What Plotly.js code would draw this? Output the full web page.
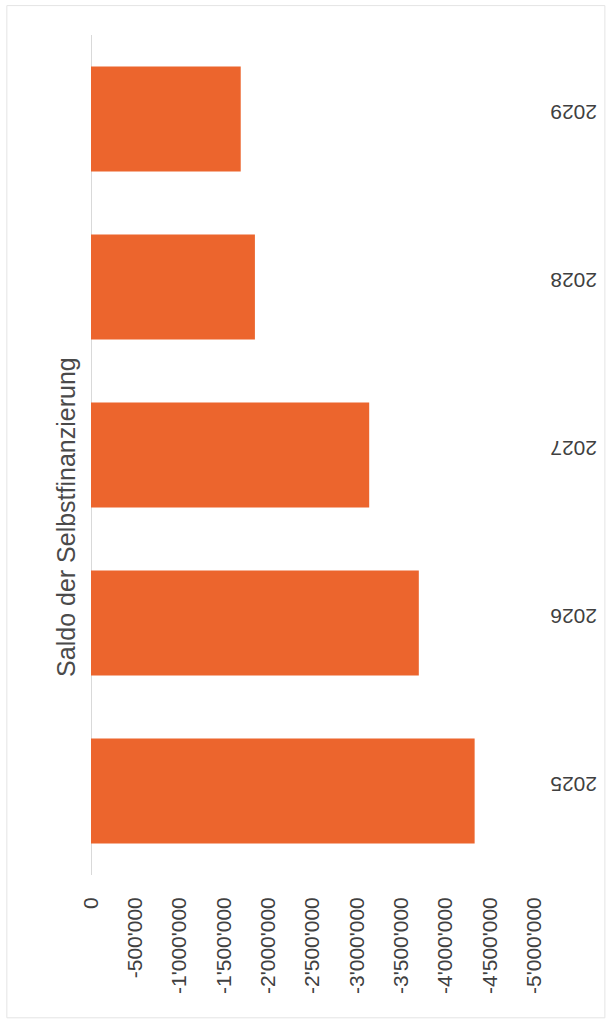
<!DOCTYPE html>
<html>
<head>
<meta charset="utf-8">
<script src="https://cdn.plot.ly/plotly-3.0.1.min.js"></script>
<style>
html,body{margin:0;padding:0;background:#fff;}
#chart{width:613px;height:1022px;}
</style>
</head>
<body>
<div id="chart"></div>
<script>
const years = ['2025','2026','2027','2028','2029'];
const saldo = [-4330000, -3700000, -3140000, -1850000, -1690000];
const tickVals = [0,-500000,-1000000,-1500000,-2000000,-2500000,-3000000,-3500000,-4000000,-4500000,-5000000];
const tickText = ['0',"-500'000","-1'000'000","-1'500'000","-2'000'000","-2'500'000","-3'000'000","-3'500'000","-4'000'000","-4'500'000","-5'000'000"];
const chartTitle = 'Saldo der Selbstfinanzierung';

const trace = {
  type: 'bar',
  orientation: 'h',
  y: years,
  x: saldo,
  marker: {color: '#EC652D'},
  hoverinfo: 'x+y'
};

const layout = {
  width: 613,
  height: 1022,
  margin: {l: 91, r: 79, t: 35, b: 147},
  paper_bgcolor: '#ffffff',
  plot_bgcolor: '#ffffff',
  bargap: 0.375,
  showlegend: false,
  font: {family: 'Liberation Sans, Arial, sans-serif', color: '#404040'},
  xaxis: {
    range: [0, -5000000],
    tickvals: tickVals,
    ticktext: tickText,
    tickangle: -90,
    showgrid: false,
    zeroline: true,
    zerolinecolor: '#d9d9d9',
    zerolinewidth: 1,
    showline: false,
    ticks: '',
    ticklabelstandoff: 17,
    tickfont: {size: 21, color: '#404040'}
  },
  yaxis: {
    side: 'right',
    type: 'category',
    tickangle: 180,
    showgrid: false,
    zeroline: false,
    showline: false,
    ticks: '',
    ticklabelstandoff: 62,
    tickfont: {size: 21, color: '#404040'}
  },
  annotations: [{
    text: chartTitle,
    xref: 'paper', yref: 'paper',
    x: -0.057, y: 0.426,
    xanchor: 'center', yanchor: 'middle',
    textangle: -90,
    showarrow: false,
    font: {size: 25, color: '#4a4a4a'}
  }],
  shapes: [{
    type: 'rect', xref: 'paper', yref: 'paper',
    x0: -0.19, x1: 1.16, y0: -0.17, y1: 1.035,
    line: {color: '#e4e4e4', width: 1}
  }]
};

Plotly.newPlot('chart', [trace], layout, {displayModeBar: false, staticPlot: true});
</script>
</body>
</html>
